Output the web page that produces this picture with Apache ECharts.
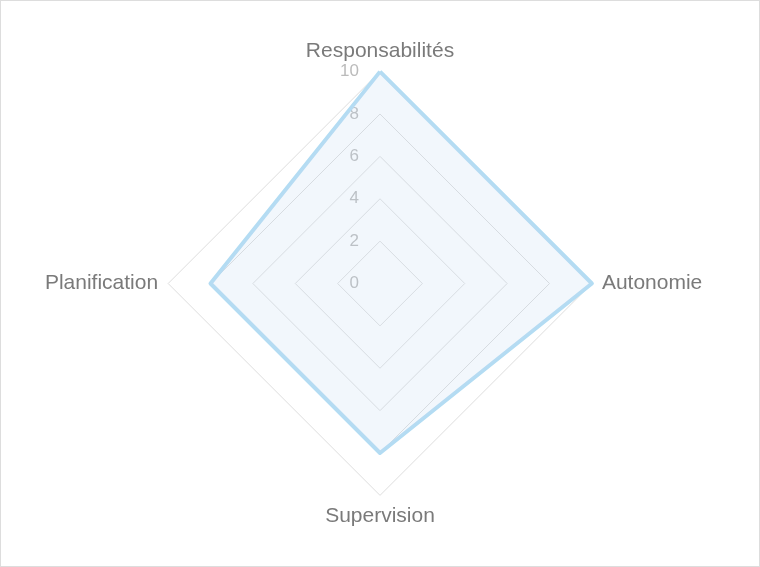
<!DOCTYPE html>
<html>
<head>
<meta charset="utf-8">
<script src="https://cdn.jsdelivr.net/npm/echarts@6/dist/echarts.min.js"></script>
<style>
html,body{margin:0;padding:0;background:#fff;}
#chart{width:758px;height:565px;border:1px solid #dddddd;}
</style>
</head>
<body>
<div id="chart"></div>
<script>
// Listed in drawing order (clockwise from the top)
var indicators = ['Responsabilités', 'Planification', 'Supervision', 'Autonomie'];
var maxValues = [10, 10, 10, 10];
var seriesValues = [10, 8, 8, 10];
var tickLabels = ['0', '2', '4', '6', '8', '10'];

var chart = echarts.init(document.getElementById('chart'), null, {renderer: 'canvas'});
var option = {
  animation: false,
  radar: {
    center: ['50%', '50%'],
    radius: '75%',
    splitNumber: 5,
    startAngle: 90,
    shape: 'polygon',
    nameGap: 10,
    axisName: {
      color: '#7a7a7a',
      fontSize: 21,
      fontFamily: 'Liberation Sans, Arial, sans-serif'
    },
    splitLine: {lineStyle: {color: '#dddddd', width: 1}},
    splitArea: {show: false},
    axisLine: {show: false},
    axisTick: {show: false},
    axisLabel: {show: false},
    indicator: indicators.map(function (n, i) {
      var ind = {name: n, min: 0, max: maxValues[i]};
      if (i === 0) {
        ind.axisLabel = {
          show: true,
          color: '#bbbbbb',
          fontSize: 17,
          fontFamily: 'Liberation Sans, Arial, sans-serif',
          margin: 21,
          formatter: function (v) {
            var idx = Math.round(v / 2);
            return tickLabels[idx] != null ? tickLabels[idx] : v;
          }
        };
      }
      return ind;
    })
  },
  series: [{
    type: 'radar',
    symbol: 'none',
    lineStyle: {color: '#b3dcf3', width: 4},
    areaStyle: {color: 'rgba(195,218,242,0.3)'},
    data: [{value: seriesValues}]
  }]
};
chart.setOption(option);
</script>
</body>
</html>
